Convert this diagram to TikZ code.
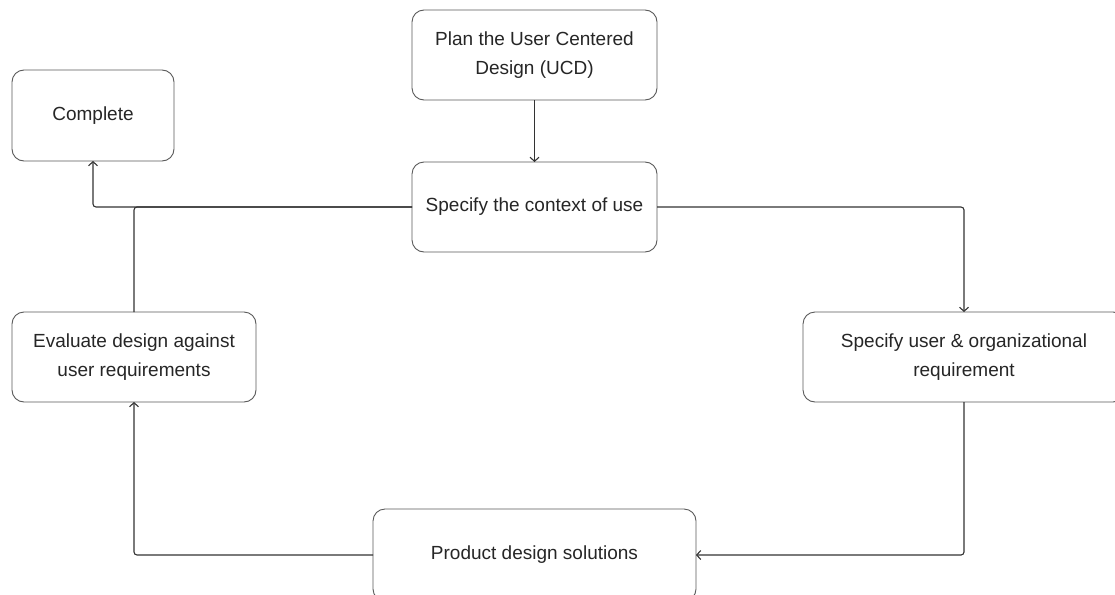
\documentclass[tikz,border=0pt]{standalone}
\usepackage{fontspec}
\setmainfont{Liberation Sans}
\usetikzlibrary{arrows.meta}
\definecolor{txt}{HTML}{262626}
\definecolor{boxline}{HTML}{5A5A5A}
\definecolor{conn}{HTML}{333333}
\tikzset{
  stepbox/.style={draw=boxline, line width=0.9pt, rounded corners=12pt, align=center,
    text=txt, font=\fontsize{19}{29}\selectfont, inner sep=0pt, outer sep=0pt},
  conn/.style={draw=conn, line width=1.1pt, rounded corners=3pt},
  arr/.style={conn, -{Straight Barb[length=4pt,width=9pt,line width=1.1pt]}}
}
\begin{document}
\begin{tikzpicture}[x=1pt,y=-1pt]
\useasboundingbox (0,0) rectangle (1115,594);
\clip (0,0) rectangle (1115,594);
\fill[white] (0,0) rectangle (1115,594);
\node[stepbox, minimum width=245pt, minimum height=90pt] (plan) at (534.5,55) {Plan the User Centered\\Design (UCD)};
\node[stepbox, minimum width=245pt, minimum height=90pt] (ctx) at (534.5,207) {Specify the context of use};
\node[stepbox, minimum width=162pt, minimum height=91pt] (done) at (93,115.5) {Complete};
\node[stepbox, minimum width=244pt, minimum height=90pt] (eval) at (134,357) {Evaluate design against\\user requirements};
\node[stepbox, minimum width=322pt, minimum height=90pt] (spec) at (964,357) {Specify user \& organizational\\requirement};
\node[stepbox, minimum width=323pt, minimum height=92pt] (prod) at (534.5,555) {Product design solutions};
\coordinate (cl) at (93,207);
\draw[arr] (plan) -- (ctx);
\draw[arr] (ctx.east) -| (spec.north);
\draw[arr] (spec.south) |- (prod.east);
\draw[arr] (prod.west) -| (eval.south);
\draw[conn] (eval.north) |- (ctx.west);
\draw[arr] (ctx.west) -- (cl) -- (done.south);
\end{tikzpicture}
\end{document}
